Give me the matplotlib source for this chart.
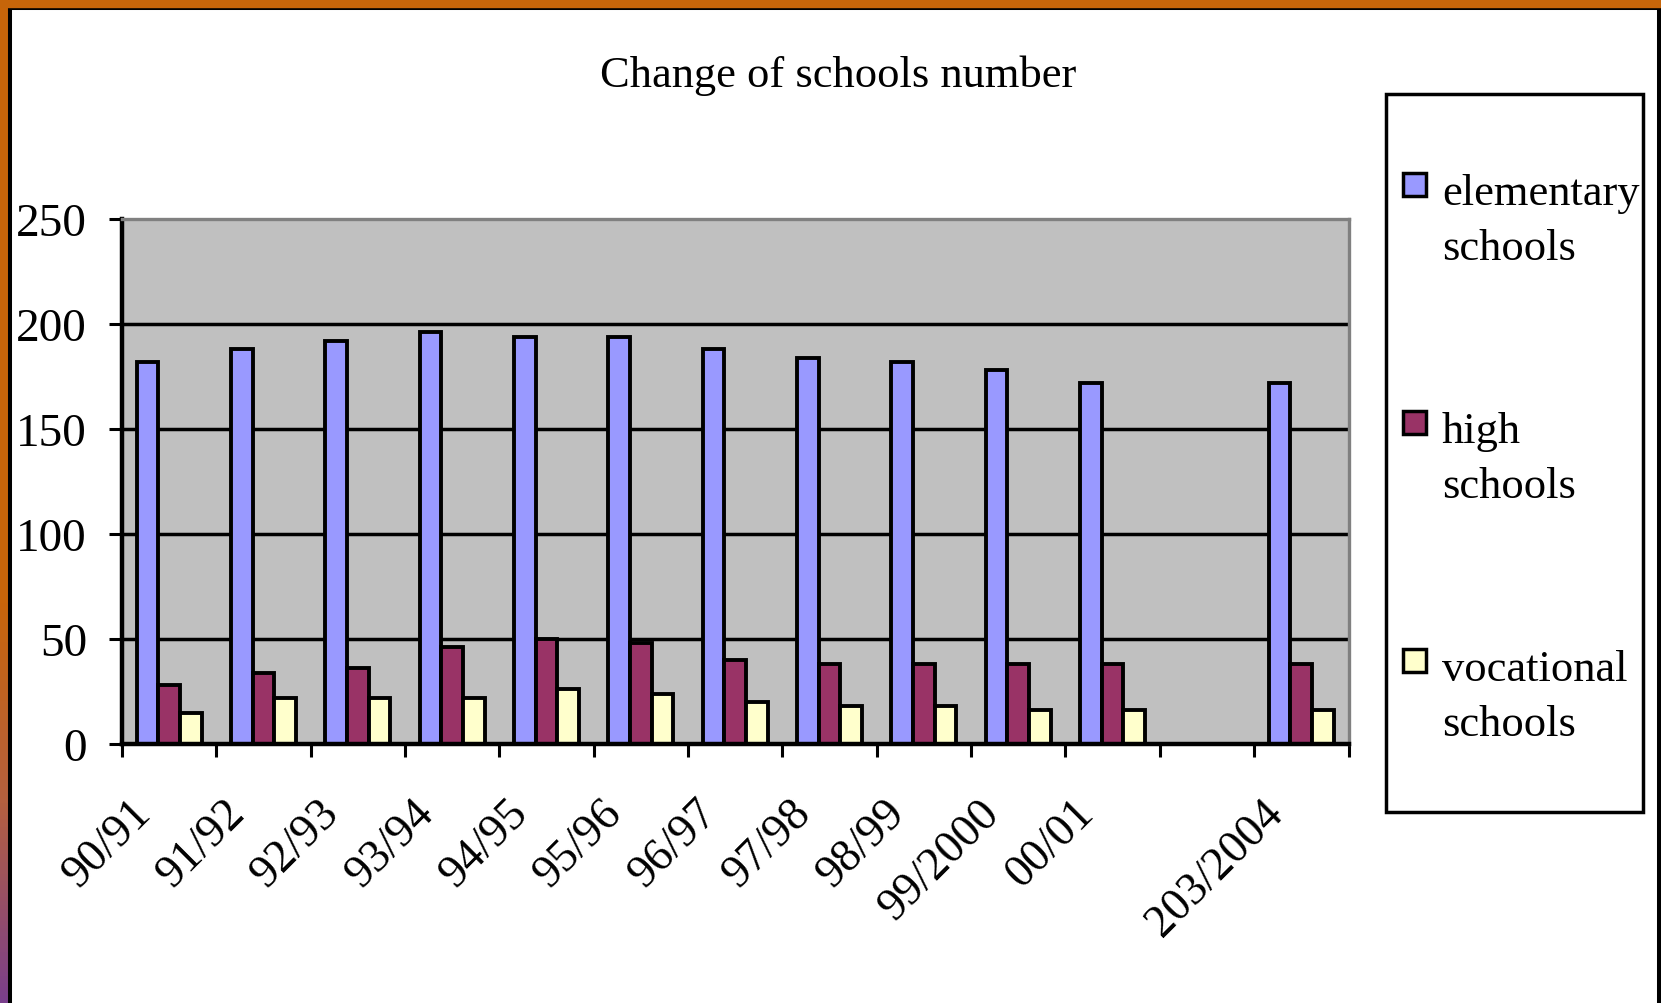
"""
Grouped bar chart: change of schools number.
"""
import matplotlib
matplotlib.use("Agg")
import matplotlib.pyplot as plt
import numpy as np
from matplotlib.colors import LinearSegmentedColormap
from matplotlib.lines import Line2D
from matplotlib.patches import Rectangle
from matplotlib.transforms import ScaledTranslation

years = ['90/91', '91/92', '92/93', '93/94', '94/95', '95/96', '96/97',
         '97/98', '98/99', '99/2000', '00/01', '', '203/2004']
elementary = [182, 188, 192, 196, 194, 194, 188, 184, 182, 178, 172, np.nan, 172]
high = [28, 34, 36, 46, 50, 48, 40, 38, 38, 38, 38, np.nan, 38]
vocational = [15, 22, 22, 22, 26, 24, 20, 18, 18, 16, 16, np.nan, 16]
series_names = ['elementary schools', 'high schools', 'vocational schools']
colors = ['#9999FF', '#993366', '#FFFFCC']
y_ticks = [0, 50, 100, 150, 200, 250]

plt.rcParams['font.family'] = ['Liberation Serif', 'DejaVu Serif']

W, H = 1661, 1004


def fx(px):
    return px / W


def fy(py):
    return 1 - py / H


fig = plt.figure(figsize=(W / 100, H / 100), dpi=100)

# slide decoration: orange strips + black frame
strip = fig.add_axes([0, 0, fx(8.5), 1])
cmap = LinearSegmentedColormap.from_list(
    'strip', [(0, '#C8650A'), (0.6, '#C8650A'), (0.8, '#B5603F'), (1, '#7A3F8C')])
strip.imshow(np.linspace(0, 1, 256)[:, None], cmap=cmap, aspect='auto',
             extent=(0, 1, 0, 1), origin='upper')
strip.axis('off')
fig.add_artist(Rectangle((0, fy(7.5)), 1, 7.5 / H, color='#C6650A',
                         transform=fig.transFigure, zorder=5))
for xs, ys in [([fx(10.3), fx(10.3)], [0, fy(9)]),
               ([fx(10.3), fx(1659)], [fy(9), fy(9)]),
               ([fx(1659), fx(1659)], [fy(9), 0])]:
    fig.add_artist(Line2D(xs, ys, color='black', lw=2.9, transform=fig.transFigure))

fig.text(fx(838), fy(87), 'Change of schools number', ha='center',
         va='baseline', fontsize=32)

ax = fig.add_axes([fx(122), fy(745), fx(1348.5) - fx(122), fy(220) - fy(745)])
ax.set_facecolor('#C0C0C0')

x = np.arange(len(years))
w = 0.23
for i, vals in enumerate([elementary, high, vocational]):
    ax.bar(x + (i - 1) * w, vals, w, color=colors[i], edgecolor='black',
           linewidth=2.8, zorder=3, label=series_names[i])

ax.set_xlim(-0.5, len(years) - 0.5)
ax.set_ylim(0, 250)
ax.set_yticks(y_ticks)
ax.yaxis.grid(True, color='black', lw=2.5)
ax.set_axisbelow(True)
gl = ax.yaxis.get_gridlines()
gl[0].set_visible(False)
gl[-1].set_visible(False)

for side in ['top', 'right']:
    ax.spines[side].set_color('#808080')
    ax.spines[side].set_linewidth(2.4)
for side in ['left', 'bottom']:
    ax.spines[side].set_color('black')
    ax.spines[side].set_linewidth(3.2)
ax.spines['bottom'].set_zorder(4)

ax.set_xticks(np.arange(-0.5, len(years), 1), [''] * (len(years) + 1))
ax.set_xticks(x, years, minor=True, rotation=45, ha='right', va='top',
              rotation_mode='anchor', fontsize=33)
ax.tick_params(axis='x', which='major', length=9.4, width=2.2, direction='out')
ax.tick_params(axis='x', which='minor', length=0, pad=34)
ax.tick_params(axis='y', length=9.4, width=2.2, pad=15.8, labelsize=34)
shift = ScaledTranslation(-0.40, 0, fig.dpi_scale_trans)
for lab in ax.get_xticklabels(minor=True):
    lab.set_transform(lab.get_transform() + shift)

# legend box drawn by hand to match the two-line entries
fig.add_artist(Rectangle((fx(1386), fy(813)), fx(1643) - fx(1386),
                         fy(95) - fy(813), facecolor='white', edgecolor='black',
                         lw=2.5, transform=fig.transFigure))
for i, name in enumerate(series_names):
    base = 205 + 238 * i
    cy = base - 19.5
    fig.add_artist(Rectangle((fx(1402.5), fy(cy + 11.5)), 23 / W, 23 / H,
                             facecolor=colors[i], edgecolor='black', lw=2.5,
                             transform=fig.transFigure))
    for j, word in enumerate(name.split()):
        fig.text(fx(1442), fy(base + 55 * j), word, va='baseline', fontsize=32)

fig.savefig('out.png', dpi=100)
